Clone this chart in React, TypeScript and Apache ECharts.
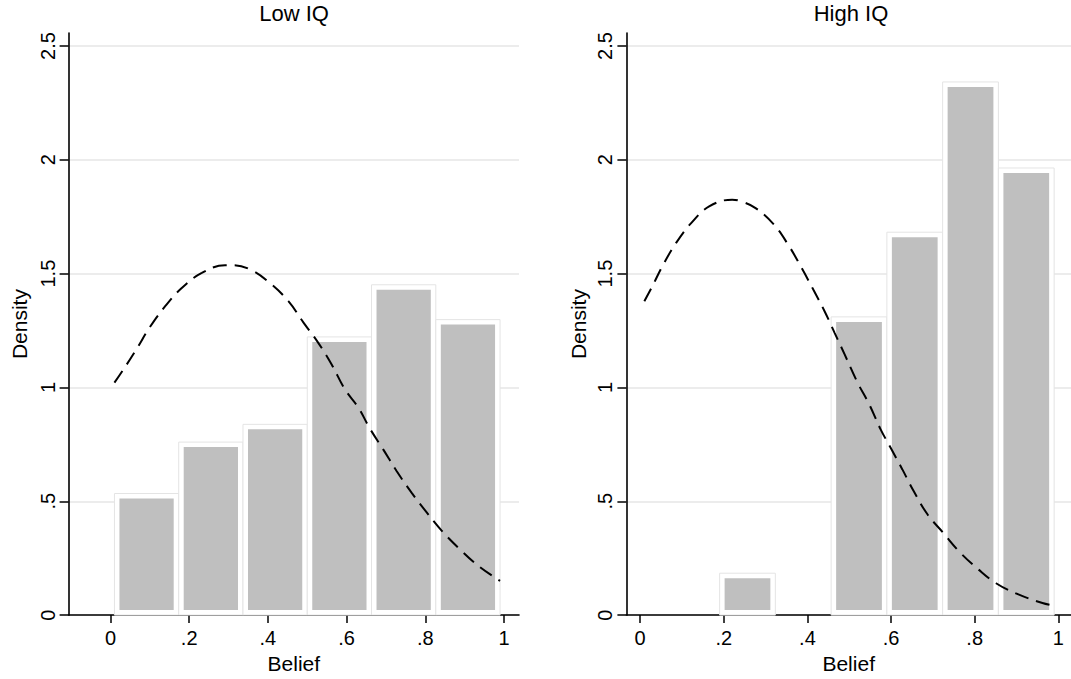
import React, { useEffect, useRef } from "react";
import * as echarts from "echarts";

// ---- data ----
const panelTitles = ["Low IQ", "High IQ"];
const xTicks = [0, 0.2, 0.4, 0.6, 0.8, 1];
const yTicks = [0, 0.5, 1, 1.5, 2, 2.5];

const lowBinEdges = [0.01, 0.1733, 0.3367, 0.5, 0.6633, 0.8267, 0.99];
const lowDensity = [0.534, 0.76, 0.838, 1.222, 1.451, 1.298];

const highBinEdges = [0.19, 0.3233, 0.4567, 0.59, 0.7233, 0.8567, 0.99];
const highDensity = [0.184, 0, 1.31, 1.682, 2.342, 1.964];

const lowCurveX = [0.01, 0.034, 0.067, 0.1, 0.139, 0.181, 0.232, 0.291, 0.312, 0.355, 0.405, 0.452, 0.49, 0.528, 0.562, 0.596, 0.63, 0.659, 0.693, 0.727, 0.765, 0.804, 0.842, 0.888, 0.935, 0.99];
const lowCurveY = [1.021, 1.082, 1.171, 1.265, 1.357, 1.437, 1.503, 1.537, 1.537, 1.518, 1.459, 1.379, 1.286, 1.196, 1.101, 0.991, 0.911, 0.82, 0.728, 0.633, 0.538, 0.45, 0.37, 0.289, 0.216, 0.15];

const highCurveX = [0.01, 0.029, 0.055, 0.086, 0.122, 0.165, 0.22, 0.242, 0.276, 0.32, 0.354, 0.384, 0.414, 0.441, 0.465, 0.489, 0.52, 0.548, 0.575, 0.599, 0.627, 0.654, 0.687, 0.724, 0.765, 0.808, 0.851, 0.903, 0.962, 0.99];
const highCurveY = [1.379, 1.444, 1.539, 1.635, 1.722, 1.795, 1.825, 1.817, 1.788, 1.715, 1.627, 1.532, 1.43, 1.335, 1.24, 1.145, 1.021, 0.925, 0.816, 0.735, 0.64, 0.545, 0.443, 0.363, 0.275, 0.202, 0.14, 0.092, 0.053, 0.041];

// ---- styling ----
const FONT = "'Liberation Sans', Arial, Helvetica, sans-serif";
const BLACK = "#000000";
const GRID_GRAY = "#e6e6e6";

const fmt = (v: number) => {
  const s = String(Math.round(v * 100) / 100);
  return s.startsWith("0.") ? s.slice(1) : s;
};

const binsToData = (edges: number[], dens: number[]) =>
  dens.map((d, i) => [edges[i], edges[i + 1], d]);

const pairs = (xs: number[], ys: number[]) => xs.map((x, i) => [x, ys[i]]);

const renderBar = (params: any, api: any) => {
  const x0 = api.value(0);
  const x1 = api.value(1);
  const h = api.value(2);
  if (!h) return null;
  const tl = api.coord([x0, h]);
  const br = api.coord([x1, 0]);
  const w = br[0] - tl[0];
  const ht = br[1] - tl[1];
  const inset = 5;
  return {
    type: "group",
    children: [
      {
        type: "rect",
        shape: { x: tl[0], y: tl[1], width: w, height: ht },
        style: { fill: "#ffffff", stroke: "#e4e4e4", lineWidth: 1 },
      },
      {
        type: "rect",
        shape: { x: tl[0] + inset, y: tl[1] + inset, width: w - 2 * inset, height: ht - 2 * inset },
        style: { fill: "#bfbfbf" },
      },
    ],
  };
};

const makeXAxis = (gridIndex: number, min: number, max: number) => ({
  type: "value",
  gridIndex,
  min,
  max,
  axisLine: { show: true, onZero: false, lineStyle: { color: BLACK, width: 1.6 } },
  axisTick: { show: true, length: 8, customValues: xTicks, lineStyle: { color: BLACK, width: 1.5 } },
  axisLabel: {
    customValues: xTicks,
    formatter: fmt,
    margin: 13,
    fontSize: 20,
    color: BLACK,
    fontFamily: FONT,
  },
  splitLine: { show: false },
  name: "Belief",
  nameLocation: "middle",
  nameGap: 35,
  nameTextStyle: { fontSize: 21, color: BLACK, fontFamily: FONT },
});

const makeYAxis = (gridIndex: number, nameGap: number) => ({
  type: "value",
  gridIndex,
  min: 0,
  max: 2.557,
  interval: 0.5,
  axisLine: { show: true, onZero: false, lineStyle: { color: BLACK, width: 1.6 } },
  axisTick: { show: true, length: 9, customValues: yTicks, lineStyle: { color: BLACK, width: 1.5 } },
  axisLabel: {
    customValues: yTicks,
    formatter: fmt,
    rotate: 90,
    margin: 11,
    fontSize: 20,
    color: BLACK,
    fontFamily: FONT,
  },
  splitLine: {
    show: true,
    lineStyle: {
      color: [GRID_GRAY, GRID_GRAY, GRID_GRAY, GRID_GRAY, GRID_GRAY, GRID_GRAY, "rgba(0,0,0,0)"],
      width: 1.5,
    },
  },
  name: "Density",
  nameLocation: "middle",
  nameRotate: 90,
  nameGap,
  nameTextStyle: { fontSize: 21, color: BLACK, fontFamily: FONT },
});

const titleStyle = { fontSize: 22, fontWeight: "normal", color: BLACK, fontFamily: FONT };

export default function App() {
  const ref = useRef<HTMLDivElement>(null);

  useEffect(() => {
    if (!ref.current) return;
    const chart = echarts.init(ref.current, null, { renderer: "svg" });
    const option: any = {
      animation: false,
      backgroundColor: "#ffffff",
      textStyle: { fontFamily: FONT },
      title: [
        { text: panelTitles[0], left: 294, top: 2, textAlign: "center", padding: 0, textStyle: titleStyle },
        { text: panelTitles[1], left: 851, top: 2, textAlign: "center", padding: 0, textStyle: titleStyle },
      ],
      grid: [
        { left: 68.6, right: 552, top: 33, bottom: 63, containLabel: false },
        { left: 626.4, right: -4.6, top: 33, bottom: 63, containLabel: false },
      ],
      xAxis: [makeXAxis(0, -0.1065, 1.0381), makeXAxis(1, -0.0329, 1.0303)],
      yAxis: [makeYAxis(0, 39), makeYAxis(1, 37)],
      series: [
        {
          type: "custom",
          xAxisIndex: 0,
          yAxisIndex: 0,
          renderItem: renderBar,
          encode: { x: [0, 1], y: 2 },
          data: binsToData(lowBinEdges, lowDensity),
          z: 2,
        },
        {
          type: "custom",
          xAxisIndex: 1,
          yAxisIndex: 1,
          renderItem: renderBar,
          encode: { x: [0, 1], y: 2 },
          data: binsToData(highBinEdges, highDensity),
          z: 2,
        },
        {
          type: "line",
          xAxisIndex: 0,
          yAxisIndex: 0,
          data: pairs(lowCurveX, lowCurveY),
          showSymbol: false,
          smooth: 0.4,
          lineStyle: { color: BLACK, width: 2, type: [14, 8] },
          z: 5,
        },
        {
          type: "line",
          xAxisIndex: 1,
          yAxisIndex: 1,
          data: pairs(highCurveX, highCurveY),
          showSymbol: false,
          smooth: 0.4,
          lineStyle: { color: BLACK, width: 2, type: [14, 8] },
          z: 5,
        },
      ],
    };
    chart.setOption(option);
    return () => chart.dispose();
  }, []);

  return (
    <div
      ref={ref}
      style={{ position: "absolute", left: 0, top: 0, width: 1071, height: 679, background: "#fff" }}
    />
  );
}
